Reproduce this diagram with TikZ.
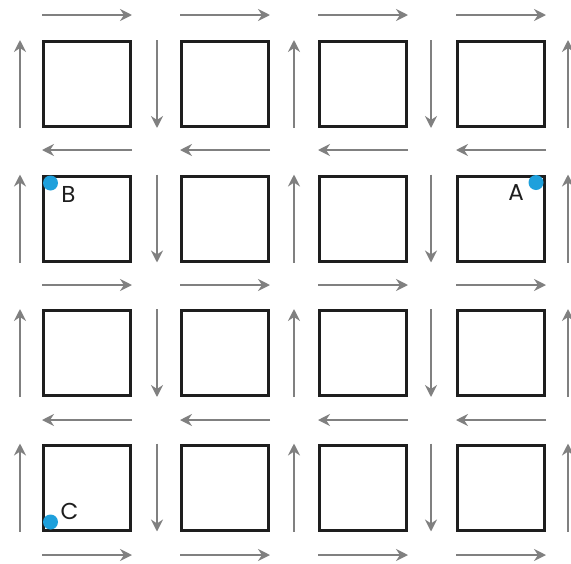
\documentclass[tikz,border=0pt]{standalone}
\usepackage{fontspec}
\setmainfont{Poppins}
\usepackage{tikz}
\usetikzlibrary{arrows.meta, positioning, calc}
\definecolor{arrowgray}{RGB}{128,128,128}
\definecolor{edge}{RGB}{30,30,30}
\definecolor{marker}{RGB}{30,160,220}
\tikzset{
  block/.style={draw=edge, line width=3pt, fill=white, inner sep=0pt,
                minimum width=87pt, minimum height=85pt},
  flow/.style={-{Stealth[length=12pt, width=12pt, inset=4pt]},
               line width=2.3pt, draw=arrowgray},
  spot/.style={circle, fill=marker, minimum size=15pt, inner sep=0pt},
  tag/.style={font=\fontsize{23}{23}\selectfont, text=edge, inner sep=0pt}
}

\begin{document}
\begin{tikzpicture}[x=1pt, y=-1pt]
  \useasboundingbox (0,0) rectangle (571,563);
  % blocks of the grid
  \foreach \r in {1,...,4}
    \foreach \c in {1,...,4}
      \node[block] (sq-\r-\c) at ({87+138*(\c-1)}, {84+134.5*(\r-1)}) {};

  % lanes between the blocks
  \foreach \k in {0,...,4} {
    \coordinate (v\k) at ({20+137*\k}, 0);
    \coordinate (h\k) at (0, {15+135*\k});
  }

  % vertical lanes: up, down, up, down, up
  \foreach \k in {0,2,4}
    \foreach \r in {1,...,4}
      \draw[flow] (v\k |- sq-\r-1.south) -- (v\k |- sq-\r-1.north);
  \foreach \k in {1,3}
    \foreach \r in {1,...,4}
      \draw[flow] (v\k |- sq-\r-1.north) -- (v\k |- sq-\r-1.south);

  % horizontal lanes: right, left, right, left, right
  \foreach \k in {0,2,4}
    \foreach \c in {1,...,4}
      \draw[flow] (sq-1-\c.west |- h\k) -- (sq-1-\c.east |- h\k);
  \foreach \k in {1,3}
    \foreach \c in {1,...,4}
      \draw[flow] (sq-1-\c.east |- h\k) -- (sq-1-\c.west |- h\k);

  % marked corners
  \node[spot] (ptA) at ($(sq-2-4.north east)+(-10,8)$) {};
  \node[spot] (ptB) at ($(sq-2-1.north west)+(8.5,8.5)$) {};
  \node[spot] (ptC) at ($(sq-4-1.south west)+(8.5,-9.5)$) {};
  \node[tag] (lblA) at ($(ptA)+(-20,10)$) {A};
  \node[tag] (lblB) at ($(ptB)+(18,11)$) {B};
  \node[tag] (lblC) at ($(ptC)+(19,-11)$) {C};
\end{tikzpicture}
\end{document}
